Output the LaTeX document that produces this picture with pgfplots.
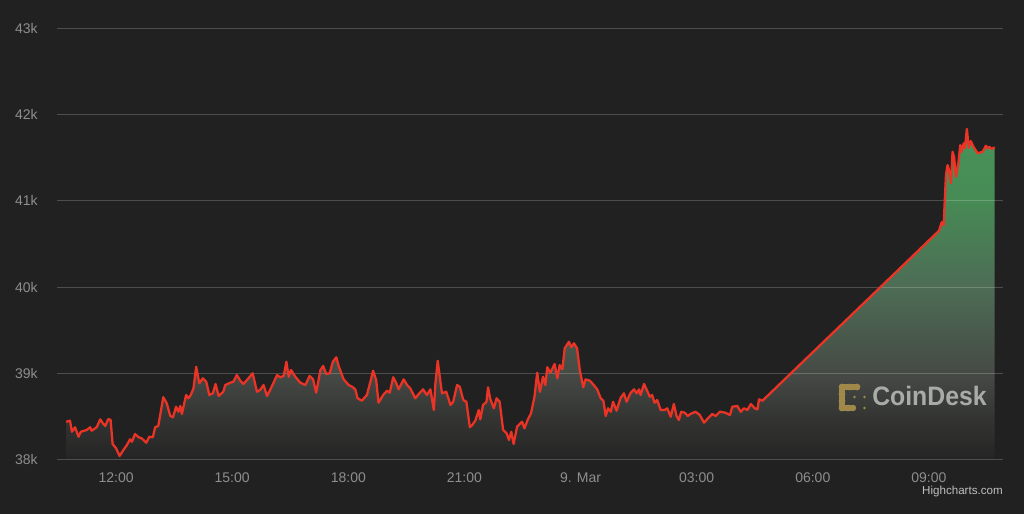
\documentclass[border=0pt]{standalone}
\usepackage{pgfplots}
\pgfplotsset{compat=1.18}
\usepackage{pgfplotstable}
\usepackage{fontspec}
\setmainfont{Liberation Sans}
\definecolor{bgc}{HTML}{212121}
\definecolor{labc}{HTML}{8E8E8E}
\definecolor{linec}{HTML}{EC3426}
\definecolor{goldc}{HTML}{A0874A}
\definecolor{logotext}{HTML}{A9ABA7}
\definecolor{sh0}{HTML}{242424}
\definecolor{sh1}{HTML}{343533}
\definecolor{sh2}{HTML}{464A45}
\definecolor{sh3}{HTML}{4D6C55}
\definecolor{sh4}{HTML}{478A55}
\definecolor{sh5}{HTML}{469459}
\pgfdeclareverticalshading{priceshade}{100bp}{color(0bp)=(sh0); color(25bp)=(sh0); color(31.5bp)=(sh1); color(38bp)=(sh2); color(51bp)=(sh3); color(64bp)=(sh4); color(75bp)=(sh5); color(100bp)=(sh5)}
\pgfplotstableread{
h p
10.71 38438
10.81 38450
10.86 38322
10.94 38374
11.03 38264
11.09 38322
11.24 38342
11.33 38374
11.37 38334
11.50 38374
11.59 38466
11.66 38420
11.72 38389
11.80 38470
11.86 38458
11.91 38180
12.00 38130
12.09 38041
12.19 38110
12.28 38168
12.36 38234
12.41 38206
12.49 38296
12.58 38258
12.66 38246
12.78 38195
12.86 38264
12.95 38258
13.01 38374
13.09 38389
13.22 38722
13.31 38652
13.40 38505
13.47 38490
13.55 38612
13.61 38554
13.66 38621
13.70 38528
13.81 38748
13.87 38710
13.93 38748
14.00 38826
14.07 39076
14.15 38884
14.24 38942
14.33 38902
14.41 38748
14.50 38768
14.57 38876
14.65 38737
14.77 38786
14.82 38864
14.95 38891
15.03 38902
15.12 38980
15.21 38914
15.29 38876
15.42 38942
15.53 39000
15.64 38786
15.72 38806
15.81 38864
15.90 38737
15.98 38806
16.16 38980
16.24 38954
16.33 38969
16.40 39134
16.46 38960
16.52 39038
16.63 38960
16.76 38891
16.89 38864
17.00 38969
17.09 38930
17.17 38775
17.28 39038
17.35 39085
17.43 38992
17.52 39000
17.60 39134
17.69 39186
17.75 39085
17.88 38930
18.01 38864
18.10 38844
18.18 38814
18.24 38710
18.35 38682
18.48 38748
18.57 38902
18.64 39030
18.72 38922
18.78 38659
18.90 38748
19.00 38798
19.07 38775
19.16 38954
19.24 38884
19.30 38814
19.43 38930
19.52 38864
19.60 38826
19.73 38710
19.82 38760
19.93 38814
20.03 38748
20.12 38814
20.21 38574
20.25 38884
20.31 39146
20.38 38902
20.42 38768
20.53 38786
20.64 38632
20.71 38670
20.81 38864
20.88 38844
20.97 38690
21.05 38670
21.14 38374
21.20 38400
21.28 38450
21.37 38574
21.41 38466
21.48 38632
21.57 38670
21.61 38838
21.67 38698
21.76 38594
21.83 38710
21.91 38670
22.00 38342
22.09 38304
22.15 38226
22.21 38322
22.27 38180
22.36 38380
22.49 38438
22.55 38362
22.64 38466
22.72 38536
22.81 38728
22.88 39007
22.95 38786
23.03 38960
23.09 38864
23.14 39070
23.22 39007
23.33 39108
23.40 38942
23.46 39096
23.53 39046
23.59 39290
23.70 39366
23.76 39302
23.83 39348
23.91 39290
23.98 39038
24.07 38838
24.13 38930
24.24 38914
24.34 38864
24.43 38814
24.52 38710
24.59 38682
24.65 38505
24.71 38594
24.78 38554
24.84 38670
24.93 38566
25.03 38710
25.12 38768
25.19 38670
25.29 38771
25.38 38814
25.45 38768
25.51 38814
25.55 38748
25.64 38876
25.72 38798
25.79 38728
25.85 38748
25.91 38659
25.98 38690
26.07 38574
26.17 38574
26.24 38594
26.33 38496
26.41 38644
26.48 38505
26.54 38458
26.60 38554
26.69 38543
26.77 38505
26.84 38528
26.97 38554
27.08 38516
27.19 38427
27.29 38478
27.40 38528
27.49 38505
27.60 38554
27.74 38543
27.86 38516
27.92 38612
28.05 38621
28.14 38554
28.22 38594
28.31 38574
28.40 38644
28.50 38594
28.57 38582
28.61 38698
28.70 38682
33.26 40654
33.33 40752
33.38 40720
33.44 41300
33.48 41416
33.52 41358
33.57 41204
33.61 41570
33.65 41512
33.70 41280
33.76 41436
33.81 41648
33.84 41570
33.90 41668
33.93 41610
33.98 41834
34.03 41617
34.08 41695
34.15 41628
34.26 41552
34.39 41570
34.47 41640
34.52 41610
34.56 41628
34.62 41602
34.70 41622
}\pricedata
\begin{document}
\pagecolor{bgc}%
\begin{tikzpicture}
\begin{axis}[
  set layers,
  at={(42.75pt,40.875pt)}, anchor=south west,
  scale only axis, width=709.5pt, height=323.25pt,
  xmin=10.474, xmax=34.914, ymin=38000, ymax=43000,
  axis line style={draw=none},
  major tick length=0pt,
  ymajorgrids,
  grid style={color=white, opacity=0.2, line width=0.75pt},
  ytick={38000,39000,40000,41000,42000,43000},
  yticklabels={38k,39k,40k,41k,42k,43k},
  xtick={12,15,18,21,24,27,30,33},
  xticklabels={12:00,15:00,18:00,21:00,9. Mar,03:00,06:00,09:00},
  tick label style={font=\fontsize{10.5}{12}\selectfont, text=labc},
  xticklabel style={anchor=north, inner sep=0pt, yshift=-9.5pt},
  yticklabel style={anchor=east, inner sep=0pt, xshift=-14.25pt},
  scaled y ticks=false,
  /pgf/number format/assume math mode=true,
]
\addplot[on layer=axis background, draw=none, mark=none, shading=priceshade] table[x=h, y=p] {\pricedata} -- (axis cs:34.70,38000) -- (axis cs:10.71,38000) -- cycle;
\addplot[color=linec, line width=1.7pt, mark=none, line join=round] table[x=h, y=p] {\pricedata};
\end{axis}
\begin{scope}[yshift=385.5pt, x=0.75pt, y=-0.75pt]
  \draw[goldc, line width=4pt, line cap=round, line join=round] (857,387) -- (842,387) -- (842,408) -- (853,408);
  \fill[goldc] (842,387) circle (3.4) (849.5,387) circle (3.4) (857,387) circle (3.4)
               (842,394) circle (3.4) (842,401) circle (3.4) (842,408) circle (3.4)
               (848,408) circle (3.4) (853,408) circle (3.2);
  \fill[goldc] (854.5,397) circle (1.4) (864.5,397) circle (1.4) (864.5,408) circle (1.4);
  \node[anchor=base west, inner sep=0pt, text=logotext, font=\bfseries\fontsize{20}{24}\selectfont, xscale=0.93, transform shape] at (872,406) {CoinDesk};
  \node[anchor=east, inner sep=0pt, text=white!75!black, font=\fontsize{8.7}{10}\selectfont] at (1003,492) {Highcharts.com};
\end{scope}
\path (0,0) rectangle (768pt,385.5pt);
\end{tikzpicture}
\end{document}
